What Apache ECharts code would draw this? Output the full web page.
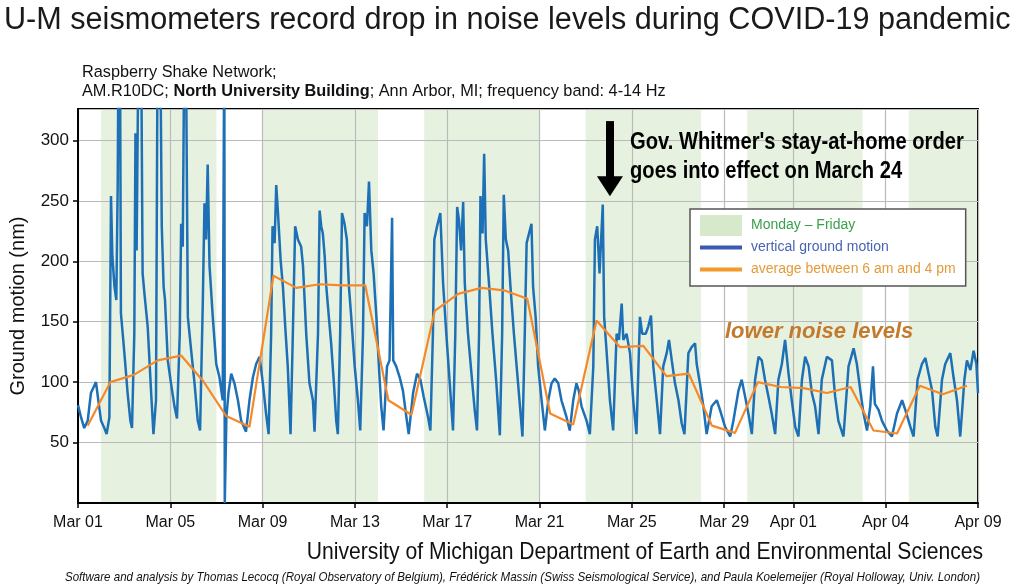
<!DOCTYPE html>
<html>
<head>
<meta charset="utf-8">
<title>U-M seismometers record drop in noise levels</title>
<script src="https://cdn.jsdelivr.net/npm/echarts@6/dist/echarts.min.js"></script>
<style>
  html, body { margin: 0; padding: 0; background: #fff; }
  #chart { width: 1024px; height: 587px; }
</style>
</head>
<body>
<div id="chart"></div>
<script>
// time is counted in days from Mar 01 00:00
const tickDay = [0, 4, 8, 12, 16, 20, 24, 28, 31, 35, 39];
const tickLabel = ['Mar 01', 'Mar 05', 'Mar 09', 'Mar 13', 'Mar 17', 'Mar 21', 'Mar 25', 'Mar 29', 'Apr 01', 'Apr 04', 'Apr 09'];

// Monday - Friday periods
const weekStart = [1, 8, 15, 22, 29, 36];
const weekEnd = [6, 13, 20, 27, 34, 39];

// vertical ground motion (nm)
const motionDay = [
  0.00, 0.13, 0.27, 0.42, 0.56, 0.68, 0.78, 0.88, 1.00, 1.14, 1.24,
  1.36, 1.43, 1.49, 1.58, 1.66, 1.72, 1.76, 1.82, 1.86, 2.01, 2.15, 2.27, 2.34,
  2.44, 2.49, 2.54, 2.62, 2.73, 2.80, 2.88, 3.02, 3.17, 3.27,
  3.38, 3.45, 3.57, 3.63, 3.71, 3.77, 3.89, 4.03, 4.18, 4.29,
  4.41, 4.47, 4.54, 4.61, 4.68, 4.76, 4.90, 5.05, 5.19, 5.29,
  5.41, 5.48, 5.55, 5.62, 5.70, 5.84, 5.99, 6.13, 6.27, 6.34, 6.36, 6.43, 6.52, 6.64, 6.78, 6.93, 7.07, 7.28,
  7.43, 7.58, 7.72, 7.87, 8.01, 8.15, 8.26,
  8.37, 8.43, 8.52, 8.59, 8.66, 8.78, 8.88, 8.98, 9.09, 9.21,
  9.31, 9.41, 9.53, 9.67, 9.75, 9.89, 10.03, 10.18, 10.25,
  10.40, 10.47, 10.54, 10.61, 10.69, 10.76, 10.87, 10.97, 11.09, 11.19, 11.26,
  11.36, 11.44, 11.55, 11.65, 11.74, 11.84, 11.99, 12.13, 12.23,
  12.35, 12.42, 12.52, 12.61, 12.71, 12.81, 12.93, 13.04, 13.14, 13.24,
  13.39, 13.50, 13.61, 13.66, 13.79, 13.94, 14.08, 14.23, 14.33,
  14.52, 14.69, 14.84, 14.98, 15.17, 15.27,
  15.38, 15.44, 15.56, 15.70, 15.82, 15.96, 16.11, 16.25,
  16.35, 16.43, 16.51, 16.60, 16.69, 16.76, 16.90, 17.05, 17.19, 17.29,
  17.38, 17.44, 17.53, 17.60, 17.67, 17.82, 17.96, 18.13, 18.28,
  18.38, 18.45, 18.54, 18.64, 18.74, 18.89, 19.07, 19.26,
  19.36, 19.44, 19.51, 19.65, 19.72, 19.83, 19.94, 20.09, 20.23,
  20.38, 20.52, 20.66, 20.81, 20.95, 21.17, 21.31,
  21.46, 21.60, 21.70, 21.82, 22.04, 22.18,
  22.33, 22.40, 22.50, 22.60, 22.74, 22.80, 22.90, 23.05, 23.19,
  23.34, 23.44, 23.56, 23.63, 23.77, 23.92, 24.06, 24.20,
  24.35, 24.45, 24.60, 24.71, 24.83, 24.93, 25.08, 25.22,
  25.36, 25.51, 25.61, 25.73, 25.87, 26.02, 26.16, 26.28,
  26.45, 26.59, 26.74, 26.81, 26.95, 27.10, 27.24,
  27.46, 27.68, 27.82, 28.04, 28.26,
  28.40, 28.62, 28.76, 28.91, 29.05, 29.20,
  29.34, 29.49, 29.63, 29.77, 29.92, 30.06, 30.21,
  30.35, 30.50, 30.64, 30.79, 30.93, 31.08, 31.22,
  31.37, 31.51, 31.66, 31.80, 31.94, 32.09,
  32.23, 32.45, 32.67, 32.81, 32.95, 33.17,
  33.39, 33.61, 33.75, 33.90, 34.04, 34.19,
  34.33, 34.45, 34.53, 34.69, 34.84, 35.05, 35.27,
  35.49, 35.71, 35.85, 36.07, 36.21,
  36.38, 36.57, 36.72, 36.86, 37.01, 37.15, 37.25,
  37.44, 37.58, 37.80, 37.94, 38.09, 38.23,
  38.41, 38.52, 38.67, 38.81, 38.93, 39.00
];
const motionNm = [
  81, 71, 62, 68, 91, 96, 100, 85, 68, 62, 57,
  71, 254, 204, 179, 168, 262, 400, 380, 157, 124, 91, 68, 62,
  140, 306, 209, 380, 400, 190, 173, 146, 91, 57,
  85, 390, 370, 229, 179, 168, 118, 99, 80, 70,
  140, 231, 212, 390, 370, 154, 127, 99, 68, 60,
  168, 248, 218, 280, 196, 154, 115, 104, 85, 400, 0, 71, 91, 107, 99, 85, 68, 59,
  85, 104, 115, 121, 99, 74, 57,
  140, 229, 215, 263, 242, 201, 179, 146, 113, 57,
  140, 229, 218, 212, 196, 140, 99, 85, 59,
  140, 242, 229, 223, 204, 179, 154, 132, 99, 68, 57,
  140, 240, 231, 218, 179, 154, 113, 85, 60,
  140, 240, 229, 266, 209, 190, 154, 113, 80, 60,
  113, 118, 236, 118, 113, 104, 93, 71, 57,
  91, 107, 102, 88, 71, 60,
  140, 218, 229, 240, 182, 140, 99, 60,
  140, 245, 234, 209, 249, 182, 140, 107, 77, 60,
  140, 254, 223, 289, 218, 179, 140, 99, 56,
  140, 255, 218, 209, 179, 140, 99, 55,
  140, 215, 215, 231, 179, 154, 113, 85, 60,
  85, 99, 103, 99, 85, 71, 60,
  85, 99, 93, 80, 68, 57,
  113, 218, 229, 190, 247, 154, 127, 85, 60,
  140, 135, 165, 135, 140, 124, 85, 57,
  154, 140, 140, 146, 155, 113, 85, 57,
  113, 124, 135, 118, 99, 85, 66, 57,
  124, 129, 132, 115, 99, 80, 57,
  80, 85, 77, 63, 55,
  68, 93, 102, 88, 74, 57,
  102, 121, 118, 102, 88, 74, 57,
  102, 115, 135, 107, 85, 63, 55,
  102, 121, 113, 91, 80, 57,
  102, 121, 118, 88, 68, 55,
  113, 128, 115, 93, 74, 60,
  80, 113, 82, 77, 68, 60, 55,
  74, 85, 77, 63, 55,
  102, 115, 120, 107, 93, 63, 55,
  102, 115, 124, 104, 85, 55,
  102, 118, 110, 126, 115, 91
];

// average between 6 am and 4 pm (nm)
const avgDay = [0.42, 1.40, 2.42, 3.45, 4.47, 5.42, 6.42, 7.43, 8.47, 9.46, 10.47, 11.45, 12.45, 13.45,
  14.45, 15.46, 16.47, 17.48, 18.45, 19.47, 20.46, 21.46, 22.47, 23.48, 24.50, 25.50, 26.47, 27.47,
  28.47, 29.46, 30.45, 31.44, 32.45, 33.48, 34.47, 35.49, 36.48, 37.48, 38.52];
const avgNm = [64, 100, 106, 118, 122, 101, 72, 63, 188, 178, 181, 180, 180, 85,
  73, 159, 173, 178, 176, 169, 74, 65, 151, 129, 130, 105, 107, 64,
  58, 100, 96, 95, 91, 96, 60, 57.5, 97, 90, 97];

const chart = echarts.init(document.getElementById('chart'));
const font = 'Liberation Sans, Arial, sans-serif';
// thin line icon that still takes the full legend item height
const lineIcon = 'path://M0,0L0,0M0,8.5H42V12.5H0ZM42,21L42,21';

chart.setOption({
  animation: false,
  textStyle: { fontFamily: font },
  grid: {
    left: 78, right: 46, top: 109, bottom: 84,
    show: true, borderColor: '#000', borderWidth: 2
  },
  legend: {
    orient: 'vertical',
    left: 690, top: 209,
    padding: [6, 10, 6, 10],
    itemGap: 1, itemWidth: 42, itemHeight: 21,
    backgroundColor: '#fff', borderColor: '#555', borderWidth: 1.5,
    selectedMode: false,
    textStyle: { fontSize: 14, fontFamily: font, padding: [0, 0, 0, 4] },
    data: [
      { name: 'Monday – Friday', icon: 'rect', itemStyle: { color: '#d6eacb' }, textStyle: { color: '#3a9f4b' } },
      { name: 'vertical ground motion', icon: lineIcon, itemStyle: { color: '#3c5ab0', borderWidth: 0 }, lineStyle: { width: 0 }, textStyle: { color: '#4763b5' } },
      { name: 'average between 6 am and 4 pm', icon: lineIcon, itemStyle: { color: '#f39a2c', borderWidth: 0 }, lineStyle: { width: 0 }, textStyle: { color: '#e39c3a' } }
    ]
  },
  xAxis: {
    type: 'value', min: 0, max: 39,
    axisLine: { lineStyle: { color: '#000', width: 2 } },
    axisTick: { show: true, length: 5, customValues: tickDay, lineStyle: { color: '#000', width: 1.5 } },
    axisLabel: {
      customValues: tickDay, fontSize: 16, color: '#111', margin: 12,
      formatter: v => tickLabel[tickDay.indexOf(v)]
    },
    splitLine: { show: true, lineStyle: { color: '#bababa', width: 1.2 } }
  },
  yAxis: {
    type: 'value', min: 0, max: 326, interval: 50,
    name: 'Ground motion (nm)', nameLocation: 'middle', nameGap: 50,
    nameTextStyle: { fontSize: 20, color: '#111', fontFamily: font },
    axisLine: { show: true, lineStyle: { color: '#000', width: 2 } },
    axisTick: { show: true, length: 5, lineStyle: { color: '#000', width: 1.5 } },
    axisLabel: { fontSize: 17, color: '#111', margin: 9, showMinLabel: false, showMaxLabel: false },
    splitLine: { show: true, lineStyle: { color: '#bababa', width: 1.2 } }
  },
  series: [
    {
      name: 'Monday – Friday', type: 'line', data: [], z: -1, silent: true,
      markArea: {
        silent: true, z: -1,
        itemStyle: { color: '#e6f2df' },
        data: weekStart.map((s, i) => [{ xAxis: s }, { xAxis: weekEnd[i] }])
      }
    },
    {
      name: 'vertical ground motion', type: 'line', z: 3,
      showSymbol: false, symbol: 'none',
      lineStyle: { color: '#1d70b5', width: 2.5 },
      itemStyle: { color: '#1d70b5' },
      data: motionDay.map((d, i) => [d, motionNm[i]]),
      markLine: {
        silent: true, z: 6, symbol: ['none', 'triangle'], symbolSize: [26, 20],
        label: { show: false },
        lineStyle: { color: '#000', width: 8, type: 'solid' },
        itemStyle: { color: '#000' },
        data: [[{ coord: [23.05, 316] }, { coord: [23.05, 262] }]]
      }
    },
    {
      name: 'average between 6 am and 4 pm', type: 'line', z: 4,
      showSymbol: false, symbol: 'none',
      lineStyle: { color: '#f5892a', width: 2.2 },
      itemStyle: { color: '#f5892a' },
      data: avgDay.map((d, i) => [d, avgNm[i]])
    }
  ],
  graphic: [
    {
      type: 'text', x: 4, y: 5, z: 10,
      style: { text: 'U-M seismometers record drop in noise levels during COVID-19 pandemic', font: '30.6px ' + font, fill: '#1a1a1a', verticalAlign: 'top' }
    },
    {
      type: 'text', x: 82, y: 63, z: 10,
      style: {
        text: 'Raspberry Shake Network;\nAM.R10DC; {b|North University Building}; Ann Arbor, MI; frequency band: 4-14 Hz',
        font: '16.3px ' + font, fill: '#111', lineHeight: 19, verticalAlign: 'top',
        rich: { b: { fontWeight: 'bold', fontSize: 16.3, fontFamily: font, fill: '#111', lineHeight: 19 } }
      }
    },
    {
      type: 'text', x: 630, y: 128, z: 10, scaleX: 0.84,
      style: { text: "Gov. Whitmer's stay-at-home order\ngoes into effect on March 24", font: 'bold 24px ' + font, fill: '#000', lineHeight: 29, verticalAlign: 'top' }
    },
    {
      type: 'text', x: 725, y: 321, z: 10,
      style: { text: 'lower noise levels', font: 'italic bold 22px ' + font, fill: '#c47a2c', verticalAlign: 'top' }
    },
    {
      type: 'text', x: 983, y: 540, z: 10, scaleX: 0.88,
      style: { text: 'University of Michigan Department of Earth and Environmental Sciences', font: '24px ' + font, fill: '#111', align: 'right', verticalAlign: 'top' }
    },
    {
      type: 'text', x: 980, y: 570, z: 10, scaleX: 0.855,
      style: { text: 'Software and analysis by Thomas Lecocq (Royal Observatory of Belgium), Frédérick Massin (Swiss Seismological Service), and Paula Koelemeijer (Royal Holloway, Univ. London)', font: 'italic 13.5px ' + font, fill: '#111', align: 'right', verticalAlign: 'top' }
    }
  ]
});
</script>
</body>
</html>
